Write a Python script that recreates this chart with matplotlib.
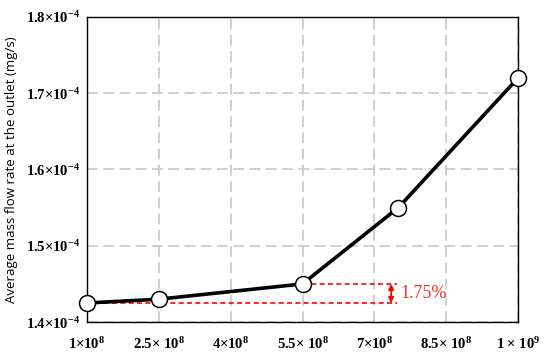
import numpy as np
import matplotlib
matplotlib.use('Agg')
import matplotlib.pyplot as plt

plt.rcParams['mathtext.fontset'] = 'custom'
plt.rcParams['mathtext.rm'] = 'Liberation Serif'
plt.rcParams['mathtext.bf'] = 'Liberation Serif:bold'
plt.rcParams['mathtext.default'] = 'bf'

# data
xvals = [1e8, 2.5e8, 5.5e8, 7.5e8, 1e9]
flow = [1.425e-4, 1.43e-4, 1.45e-4, 1.55e-4, 1.72e-4]

xticks = [1e8, 2.5e8, 4e8, 5.5e8, 7e8, 8.5e8, 1e9]
xticklabels = ['1×10$^{8}$', '2.5× 10$^{8}$', '4×10$^{8}$', '5.5× 10$^{8}$',
               '7×10$^{8}$', '8.5× 10$^{8}$', '1 × 10$^{9}$']
yticks = [1.4e-4, 1.5e-4, 1.6e-4, 1.7e-4, 1.8e-4]
yticklabels = ['1.4×10$^{-4}$', '1.5×10$^{-4}$', '1.6×10$^{-4}$',
               '1.7×10$^{-4}$', '1.8×10$^{-4}$']

diff_label = '1.75%'
line_end = 7.47e8
arrow_x = 7.35e8

fig = plt.figure(figsize=(5.5, 3.52), dpi=100)
ax = fig.add_axes([0.158, 0.085, 0.784, 0.867])

ax.plot(xvals, flow, 'k-', lw=2.6, marker='o', ms=11.5, mfc='white',
        mec='black', mew=1.1, clip_on=False, zorder=5)

# reference lines for the 1.75% change
ax.plot([xvals[0], line_end], [flow[0], flow[0]], color='red', ls='--', lw=1.2,
        dashes=(3, 2), zorder=3)
ax.plot([xvals[2], line_end], [flow[2], flow[2]], color='red', ls='--', lw=1.2,
        dashes=(3, 2), zorder=3)
ax.annotate('', xy=(arrow_x, flow[0]), xytext=(arrow_x, flow[2]),
            arrowprops=dict(arrowstyle='<|-|>', color='red', lw=1.2,
                            mutation_scale=8, shrinkA=0, shrinkB=0))
ax.text(arrow_x + 0.2e8, (flow[0] + flow[2]) / 2, diff_label, color='#f03030',
        fontsize=13, family='Liberation Serif', va='center', ha='left')

ax.set_xlim(xticks[0], xticks[-1])
ax.set_ylim(yticks[0], yticks[-1])
ax.set_xticks(xticks)
ax.set_xticklabels(xticklabels, family='Liberation Serif', fontweight='bold',
                   fontsize=10.5)
ax.set_yticks(yticks)
ax.set_yticklabels(yticklabels, family='Liberation Serif', fontweight='bold',
                   fontsize=10.5)
ax.tick_params(length=0)
ax.tick_params(axis='x', pad=10)
ax.tick_params(axis='y', pad=5)

ax.grid(True, color='#cccccc', ls='--', lw=1.3, dashes=(6, 3))
ax.set_axisbelow(True)
for s in ax.spines.values():
    s.set_linewidth(1.0)

ax.set_ylabel('Average mass flow rate at the outlet (mg/s)', family='Open Sans',
              fontsize=9.5, labelpad=6)

plt.savefig('out.png', dpi=100)
